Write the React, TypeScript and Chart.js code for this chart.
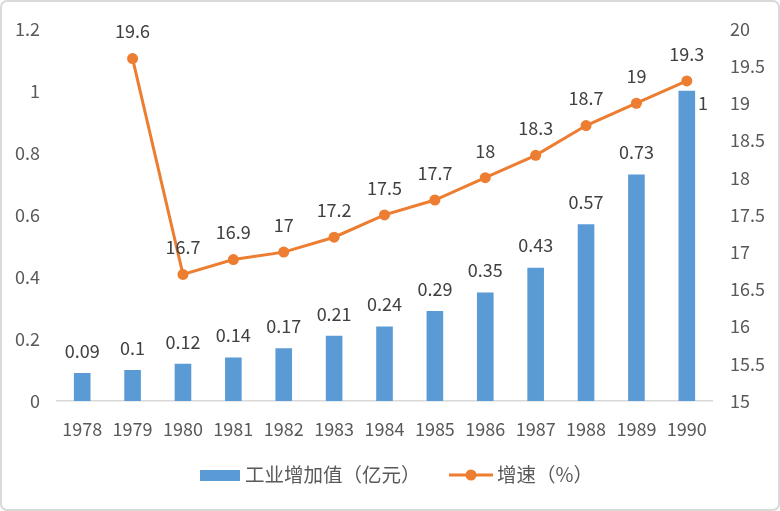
import { useEffect, useRef } from "react";
import { Chart, registerables } from "chart.js";

Chart.register(...registerables);

const years = ["1978", "1979", "1980", "1981", "1982", "1983", "1984", "1985", "1986", "1987", "1988", "1989", "1990"];
const industryValue = [0.09, 0.1, 0.12, 0.14, 0.17, 0.21, 0.24, 0.29, 0.35, 0.43, 0.57, 0.73, 1];
const growthRate: (number | null)[] = [null, 19.6, 16.7, 16.9, 17, 17.2, 17.5, 17.7, 18, 18.3, 18.7, 19, 19.3];
const leftTicks = [0, 0.2, 0.4, 0.6, 0.8, 1, 1.2];
const rightTicks = [15, 15.5, 16, 16.5, 17, 17.5, 18, 18.5, 19, 19.5, 20];
const seriesNames = ["工业增加值（亿元）", "增速（%）"];

const BLUE = "#5B9BD5";
const ORANGE = "#ED7D31";
const AXIS_TEXT = "#595959";
const LABEL_TEXT = "#404040";
const FONT = "'Noto Sans CJK SC', 'Noto Sans', sans-serif";
const FONT_SIZE = 18;
const LEGEND_FONT_SIZE = 19.5;

const framePlugin = {
  id: "frame",
  beforeDraw(chart: any) {
    const { ctx, width, height } = chart;
    ctx.save();
    ctx.fillStyle = "#ffffff";
    ctx.fillRect(0, 0, width, height);
    ctx.strokeStyle = "#D9D9D9";
    ctx.lineWidth = 2;
    const r = 6;
    const x = 1, y = 1, w = width - 2, h = height - 2;
    ctx.beginPath();
    ctx.moveTo(x + r, y);
    ctx.arcTo(x + w, y, x + w, y + h, r);
    ctx.arcTo(x + w, y + h, x, y + h, r);
    ctx.arcTo(x, y + h, x, y, r);
    ctx.arcTo(x, y, x + w, y, r);
    ctx.closePath();
    ctx.stroke();
    ctx.restore();
  },
};

const labelsPlugin = {
  id: "valueLabels",
  afterDatasetsDraw(chart: any) {
    const { ctx } = chart;
    ctx.save();
    ctx.font = `${FONT_SIZE}px ${FONT}`;
    ctx.fillStyle = LABEL_TEXT;
    ctx.textBaseline = "middle";
    const barMeta = chart.getDatasetMeta(0);
    const lineMeta = chart.getDatasetMeta(1);
    barMeta.data.forEach((bar: any, i: number) => {
      const v = industryValue[i];
      const pt = lineMeta.data[i];
      const ly = bar.y - 22;
      if (growthRate[i] != null && pt && Math.abs(ly - pt.y) < 26) {
        ctx.textAlign = "left";
        ctx.fillText(String(v), bar.x + bar.width / 2 + 3, bar.y + 12);
      } else {
        ctx.textAlign = "center";
        ctx.fillText(String(v), bar.x, ly);
      }
    });
    lineMeta.data.forEach((pt: any, i: number) => {
      const v = growthRate[i];
      if (v == null) return;
      ctx.textAlign = "center";
      ctx.fillText(String(v), pt.x, pt.y - 27);
    });
    ctx.restore();
  },
};

const legendPlugin = {
  id: "customLegend",
  afterDraw(chart: any) {
    const { ctx } = chart;
    const cy = 475;
    ctx.save();
    ctx.font = `${LEGEND_FONT_SIZE}px ${FONT}`;
    ctx.textBaseline = "middle";
    ctx.textAlign = "left";
    // bar item
    ctx.fillStyle = BLUE;
    ctx.fillRect(200, cy - 5, 40, 11);
    ctx.fillStyle = AXIS_TEXT;
    ctx.fillText(seriesNames[0], 245, cy);
    // line item
    ctx.strokeStyle = ORANGE;
    ctx.lineWidth = 3;
    ctx.beginPath();
    ctx.moveTo(449, cy);
    ctx.lineTo(493, cy);
    ctx.stroke();
    ctx.fillStyle = ORANGE;
    ctx.beginPath();
    ctx.arc(471, cy, 5.5, 0, Math.PI * 2);
    ctx.fill();
    ctx.fillStyle = AXIS_TEXT;
    ctx.fillText(seriesNames[1], 497, cy);
    ctx.restore();
  },
};

export default function App() {
  const ref = useRef<HTMLCanvasElement | null>(null);
  useEffect(() => {
    document.body.style.margin = "0";
    if (!ref.current) return;
    const chart = new Chart(ref.current, {
      type: "bar",
      data: {
        labels: years,
        datasets: [
          {
            type: "bar",
            label: seriesNames[0],
            data: industryValue,
            backgroundColor: BLUE,
            yAxisID: "y",
            categoryPercentage: 1,
            barPercentage: 0.33,
            order: 2,
          },
          {
            type: "line",
            label: seriesNames[1],
            data: growthRate,
            borderColor: ORANGE,
            backgroundColor: ORANGE,
            borderWidth: 3,
            pointRadius: 5.5,
            pointBackgroundColor: ORANGE,
            pointBorderWidth: 0,
            yAxisID: "y1",
            tension: 0,
            order: 1,
          } as any,
        ],
      },
      options: {
        animation: false,
        responsive: false,
        devicePixelRatio: 1,
        layout: { padding: { top: 26, left: 0, right: 0, bottom: 0 } },
        plugins: {
          legend: { display: false },
          tooltip: { enabled: false },
        },
        scales: {
          x: {
            grid: { display: false, drawTicks: false },
            border: { display: true, color: "#D9D9D9", width: 1.5 },
            ticks: { color: AXIS_TEXT, font: { family: FONT, size: FONT_SIZE }, padding: 17, maxRotation: 0, autoSkip: false },
            afterFit: (s: any) => { s.height = 110; },
          },
          y: {
            position: "left",
            min: 0,
            max: 1.2,
            grid: { display: false, drawTicks: false },
            border: { display: false },
            ticks: { color: AXIS_TEXT, font: { family: FONT, size: FONT_SIZE }, padding: 17, callback: (v: any) => String(v) },
            afterBuildTicks: (s: any) => { s.ticks = leftTicks.map((v) => ({ value: v })); },
            afterFit: (s: any) => { s.width = 57; },
          },
          y1: {
            position: "right",
            min: 15,
            max: 20,
            grid: { display: false, drawTicks: false },
            border: { display: false },
            ticks: { color: AXIS_TEXT, font: { family: FONT, size: FONT_SIZE }, padding: 18, callback: (v: any) => String(v) },
            afterBuildTicks: (s: any) => { s.ticks = rightTicks.map((v) => ({ value: v })); },
            afterFit: (s: any) => { s.width = 68; },
          },
        },
      },
      plugins: [framePlugin, labelsPlugin, legendPlugin],
    });
    return () => chart.destroy();
  }, []);
  return <canvas ref={ref} width={780} height={511} style={{ display: "block" }} />;
}
